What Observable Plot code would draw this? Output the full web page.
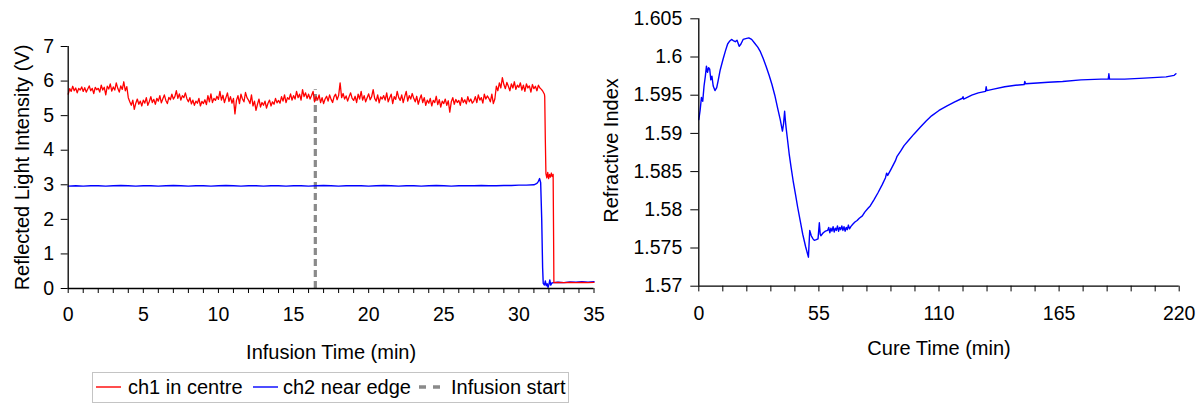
<!DOCTYPE html>
<html>
<head>
<meta charset="utf-8">
<script src="https://cdn.jsdelivr.net/npm/d3@7"></script>
<script src="https://cdn.jsdelivr.net/npm/@observablehq/plot@0.6"></script>
<style>
  body { margin: 0; background: #fff; font-family: "Liberation Sans", Arial, sans-serif; }
  #wrap { position: relative; width: 1203px; height: 403px; overflow: hidden; background: #fff; }
  #left { position: absolute; left: 0; top: 0; z-index: 2; }
  #right { position: absolute; left: 600px; top: 0; z-index: 1; }
  #legend { position: absolute; left: 92px; top: 372px; width: 477px; height: 31px; border: 1px solid #c4c4c4; box-sizing: border-box; font-size: 20px; color: #000; z-index: 3; }
  #legend .sw { position: absolute; top: 14px; height: 0; }
  #legend .tx { position: absolute; top: 3px; line-height: 22px; white-space: nowrap; }
</style>
</head>
<body>
<div id="wrap">
  <div id="right"></div>
  <div id="left"></div>
  <div id="legend"></div>
</div>
<script>
// ---------- Left chart data ----------
const leftYTicks = [0, 1, 2, 3, 4, 5, 6, 7];
const leftXTicks = [0,1,2,3,4,5,6,7,8,9,10,11,12,13,14,15,16,17,18,19,20,21,22,23,24,25,26,27,28,29,30,31,32,33,34,35];
const leftXLabels = [0, 5, 10, 15, 20, 25, 30, 35];
const leftXTitle = "Infusion Time (min)";
const leftYTitle = "Reflected Light Intensity (V)";

// ch1 in centre: samples every 0.1 min from 0 to 31.7
const redStart = 0, redStep = 0.1;
const redValues = [
  5.62,5.78,5.70,5.85,5.72,5.80,5.66,5.79,5.74,5.83,
  5.70,5.81,5.68,5.77,5.86,5.72,5.79,5.64,5.82,5.75,
  5.79,5.68,5.88,5.74,5.82,5.60,5.85,5.77,5.92,5.71,
  5.83,5.74,5.95,5.79,5.68,5.86,5.76,5.98,5.72,5.84,
  5.52,5.40,5.30,5.45,5.18,5.36,5.48,5.33,5.42,5.28,
  5.45,5.36,5.52,5.30,5.41,5.55,5.38,5.47,5.33,5.50,
  5.42,5.58,5.37,5.49,5.60,5.44,5.35,5.53,5.46,5.62,
  5.48,5.55,5.72,5.50,5.63,5.45,5.58,5.52,5.66,5.49,
  5.40,5.52,5.34,5.45,5.30,5.42,5.36,5.50,5.28,5.41,
  5.35,5.46,5.32,5.58,5.40,5.63,5.38,5.50,5.44,5.56,
  5.47,5.70,5.45,5.59,5.38,5.52,5.66,5.41,5.55,5.36,
  5.50,5.05,5.44,5.58,5.35,5.62,5.48,5.40,5.67,5.52,
  5.45,5.35,5.60,5.28,5.42,5.15,5.33,5.48,5.25,5.38,
  5.30,5.42,5.22,5.36,5.45,5.28,5.40,5.33,5.50,5.37,
  5.44,5.36,5.55,5.42,5.60,5.38,5.52,5.47,5.63,5.45,
  5.58,5.48,5.70,5.52,5.62,5.45,5.75,5.55,5.66,5.50,
  5.62,5.48,5.58,5.70,5.40,5.55,5.45,5.60,5.38,5.52,
  5.35,5.48,5.56,5.42,5.60,5.47,5.38,5.55,5.62,5.46,
  5.58,5.95,5.52,5.64,5.48,5.57,5.42,5.55,5.66,5.50,
  5.44,5.56,5.38,5.62,5.48,5.70,5.45,5.58,5.40,5.52,
  5.63,5.46,5.55,5.75,5.50,5.42,5.60,5.37,5.54,5.48,
  5.58,5.45,5.66,5.40,5.52,5.62,5.35,5.55,5.47,5.70,
  5.52,5.44,5.60,5.38,5.55,5.70,5.42,5.58,5.48,5.64,
  5.50,5.40,5.56,5.33,5.48,5.60,5.38,5.52,5.30,5.45,
  5.36,5.50,5.28,5.44,5.38,5.56,5.32,5.46,5.25,5.42,
  5.35,5.48,5.30,5.43,5.10,5.40,5.52,5.33,5.47,5.38,
  5.44,5.30,5.52,5.38,5.46,5.34,5.55,5.40,5.48,5.36,
  5.42,5.55,5.38,5.60,5.45,5.52,5.36,5.62,5.48,5.57,
  5.50,5.40,5.62,5.35,5.48,5.85,5.72,5.95,5.80,6.10,
  5.90,5.78,5.96,5.85,5.72,5.92,5.80,5.98,5.76,5.88,
  5.82,5.95,5.74,5.88,5.70,5.92,5.80,5.86,5.68,5.90,
  5.78,5.85,5.72,5.88,5.80,5.76,5.70,5.62
];
const redTailT = [31.72,31.76,31.80,31.86,31.92,31.98,32.04,32.10,32.16,32.22,32.28,32.31,32.33,32.6,33.0,33.4,33.8,34.2,34.6,35.0];
const redTailV = [5.55,4.30,3.32,3.20,3.36,3.18,3.30,3.22,3.34,3.24,3.30,1.50,0.17,0.18,0.17,0.18,0.17,0.18,0.17,0.18];

// ch2 near edge: samples every 0.5 min from 0 to 30.5, then detail
const blueStart = 0, blueStep = 0.5;
const blueValues = [
  2.96,2.97,2.96,2.97,2.97,2.96,2.97,2.98,2.97,2.96,
  2.97,2.97,2.96,2.97,2.98,2.97,2.96,2.97,2.97,2.96,
  2.97,2.98,2.97,2.96,2.97,2.97,2.96,2.97,2.97,2.96,
  2.97,2.97,2.96,2.97,2.98,2.97,2.96,2.97,2.97,2.97,
  2.96,2.97,2.98,2.97,2.96,2.97,2.97,2.96,2.97,2.98,
  2.97,2.96,2.97,2.97,2.97,2.98,2.97,2.97,2.98,2.98,
  2.99,2.99
];
const blueTailT = [31.0,31.2,31.3,31.38,31.45,31.52,31.58,31.62,31.70,31.76,31.82,31.88,31.94,32.0,32.06,32.12,32.2,32.3,32.6,33.0,33.4,33.8,34.2,34.6,35.0];
const blueTailV = [3.00,3.04,3.10,3.18,3.06,2.00,0.60,0.15,0.10,0.22,0.08,0.14,0.03,0.12,0.25,0.10,0.16,0.17,0.18,0.17,0.19,0.18,0.20,0.18,0.20];

const infusionStart = 16.45;
const infusionTop = 5.75;

// ---------- Right chart data ----------
const rightYTicks = [1.57, 1.575, 1.58, 1.585, 1.59, 1.595, 1.6, 1.605];
const rightYLabels = ["1.57", "1.575", "1.58", "1.585", "1.59", "1.595", "1.6", "1.605"];
const rightXTicks = [0,11,22,33,44,55,66,77,88,99,110,121,132,143,154,165,176,187,198,209,220];
const rightXLabels = [0, 55, 110, 165, 220];
const rightXTitle = "Cure Time (min)";
const rightYTitle = "Refractive Index";

const cureTime = [
  0,0.6,1.2,1.8,2.4,3.0,3.5,4.0,4.5,5.0,5.5,6.0,6.6,7.4,8.2,8.8,9.8,11.1,12.2,13.2,
  14.2,15.0,16.0,16.7,17.5,18.5,19.3,20.3,21.5,22.9,24.2,25.6,27.0,28.2,29.5,30.8,32.2,33.5,34.8,36.1,
  37.3,38.3,38.8,39.3,39.7,40.0,40.7,41.4,42.3,43.2,44.3,45.3,46.5,47.6,48.9,50.2,50.8,51.5,52.3,52.9,
  53.8,54.6,55.2,55.6,55.9,57.0,58.0,59.0,59.5,60.0,60.5,61.0,61.5,62.0,62.5,63.0,63.5,64.0,64.5,65.0,
  65.5,66.0,66.5,67.0,67.5,68.0,68.5,69.0,69.6,70.5,71.5,72.5,73.5,74.9,76.0,77.5,78.5,80.2,82.0,84.0,
  85.5,86.0,86.5,88.0,90.0,90.8,92.5,94.0,96.1,98.5,101.4,104.0,106.6,110.0,113.7,117.0,120.7,121.0,121.3,125.0,
  128.0,131.3,131.6,131.9,135.0,140.1,145.0,149.0,149.3,149.6,155.0,160.0,166.6,175.0,184.2,187.5,187.8,188.1,195.0,201.8,
  208.0,214.0,217.7,218.5
];
const refractiveIndex = [
  1.5918,1.5930,1.5947,1.5942,1.5962,1.5975,1.5988,1.5980,1.5986,1.5984,1.5970,1.5975,1.5962,1.5956,1.5960,1.5968,1.5983,1.5997,1.6008,1.6017,
  1.6021,1.6023,1.6021,1.6020,1.6022,1.6014,1.6017,1.6023,1.6024,1.6025,1.6023,1.6018,1.6013,1.6007,1.5998,1.5988,1.5976,1.5964,1.5950,1.5933,
  1.5918,1.5903,1.5912,1.5929,1.5915,1.5907,1.5890,1.5873,1.5855,1.5838,1.5820,1.5803,1.5785,1.5768,1.5752,1.5738,1.5773,1.5766,1.5762,1.5760,
  1.5761,1.5762,1.5783,1.5768,1.5766,1.5770,1.5772,1.5773,1.5777,1.5770,1.5776,1.5772,1.5778,1.5771,1.5776,1.5773,1.5779,1.5772,1.5777,1.5774,
  1.5779,1.5773,1.5778,1.5772,1.5777,1.5774,1.5780,1.5775,1.5778,1.5781,1.5784,1.5786,1.5789,1.5792,1.5797,1.5802,1.5805,1.5813,1.5822,1.5833,
  1.5842,1.5848,1.5845,1.5853,1.5864,1.5870,1.5877,1.5884,1.5891,1.5899,1.5908,1.5916,1.5923,1.5930,1.5936,1.5941,1.5946,1.5948,1.5945,1.5950,
  1.5953,1.5955,1.5961,1.5956,1.5958,1.5961,1.5963,1.5964,1.5968,1.5965,1.5966,1.5967,1.5968,1.5970,1.5971,1.5971,1.5978,1.5971,1.5971,1.5972,
  1.5973,1.5974,1.5976,1.5978
];

// ---------- Build tables ----------
const red = redValues.map((v, i) => ({t: redStart + i * redStep, v}))
  .concat(redTailT.map((t, i) => ({t, v: redTailV[i]})));
const blue = blueValues.map((v, i) => ({t: blueStart + i * blueStep, v}))
  .concat(blueTailT.map((t, i) => ({t, v: blueTailV[i]})));
const cure = cureTime.map((t, i) => ({t, n: refractiveIndex[i]}));

const font = "Liberation Sans, Arial, sans-serif";

const left = Plot.plot({
  width: 600, height: 370,
  marginLeft: 67.7, marginRight: 6.5, marginTop: 46, marginBottom: 82,
  style: {fontFamily: font, fontSize: "19.5px", color: "#000", background: "transparent", overflow: "visible"},
  x: {domain: [0, 35]},
  y: {domain: [0, 7]},
  marks: [
    Plot.axisY(leftYTicks, {tickSize: 7, tickPadding: 7, label: null, fontSize: 19.5, stroke: "#000"}),
    Plot.axisX(leftXTicks, {tickSize: 5, tickPadding: 14, label: null, fontSize: 19.5, stroke: "#000",
      tickFormat: d => leftXLabels.includes(d) ? String(d) : ""}),
    Plot.ruleX([infusionStart], {y1: 0, y2: infusionTop, stroke: "#8a8a8a", strokeWidth: 3.2, strokeDasharray: "7,4"}),
    Plot.line(blue, {x: "t", y: "v", stroke: "#0000ff", strokeWidth: 1.4}),
    Plot.line(red, {x: "t", y: "v", stroke: "#ff0000", strokeWidth: 1.3}),
    Plot.ruleY([0], {stroke: "#000", strokeWidth: 1.3}),
    Plot.ruleX([0], {stroke: "#000", strokeWidth: 1.3}),
    Plot.text([leftXTitle], {frameAnchor: "bottom", dy: 64, fontSize: 20, textAnchor: "middle", lineAnchor: "middle", fill: "#000"}),
    Plot.text([leftYTitle], {frameAnchor: "left", dx: -46, rotate: -90, fontSize: 20, textAnchor: "middle", lineAnchor: "middle", fill: "#000"})
  ]
});
document.getElementById("left").appendChild(left);

const right = Plot.plot({
  width: 603, height: 370,
  marginLeft: 98.3, marginRight: 24.3, marginTop: 18.3, marginBottom: 84.3,
  style: {fontFamily: font, fontSize: "19.5px", color: "#000", background: "transparent", overflow: "visible"},
  x: {domain: [0, 220]},
  y: {domain: [1.57, 1.605]},
  marks: [
    Plot.axisY(rightYTicks, {tickSize: 8, tickPadding: 8.5, label: null, fontSize: 19.5, stroke: "#000",
      tickFormat: (d) => rightYLabels[rightYTicks.indexOf(d)]}),
    Plot.axisX(rightXTicks, {tickSize: 5.7, tickPadding: 14, label: null, fontSize: 19.5, stroke: "#000",
      tickFormat: d => rightXLabels.includes(d) ? String(d) : ""}),
    Plot.line(cure, {x: "t", y: "n", stroke: "#0000ff", strokeWidth: 1.4}),
    Plot.ruleY([1.57], {stroke: "#000", strokeWidth: 1.3}),
    Plot.ruleX([0], {stroke: "#000", strokeWidth: 1.3}),
    Plot.text([rightXTitle], {frameAnchor: "bottom", dy: 62, fontSize: 20, textAnchor: "middle", lineAnchor: "middle", fill: "#000"}),
    Plot.text([rightYTitle], {frameAnchor: "left", dx: -87.3, dy: -2, rotate: -90, fontSize: 20, textAnchor: "middle", lineAnchor: "middle", fill: "#000"})
  ]
});
document.getElementById("right").appendChild(right);

// ---------- Legend ----------
const legendItems = [
  {label: "ch1 in centre", color: "#ff0000", dash: null, sx: 3, tx: 35},
  {label: "ch2 near edge", color: "#0000ff", dash: null, sx: 160, tx: 190},
  {label: "Infusion start", color: "#8a8a8a", dash: "7,7", sx: 326, tx: 358}
];
const lg = d3.select("#legend");
legendItems.forEach(it => {
  const svg = lg.append("svg").attr("class", "sw").style("left", it.sx + "px").style("top", "10px")
    .attr("width", 26).attr("height", 8).style("height", "8px");
  svg.append("line").attr("x1", 0).attr("x2", it.dash ? 22 : 25).attr("y1", 4).attr("y2", 4)
    .attr("stroke", it.color).attr("stroke-width", it.dash ? 3.5 : 1.4)
    .attr("stroke-dasharray", it.dash);
  lg.append("span").attr("class", "tx").style("left", it.tx + "px").text(it.label);
});
</script>
</body>
</html>
